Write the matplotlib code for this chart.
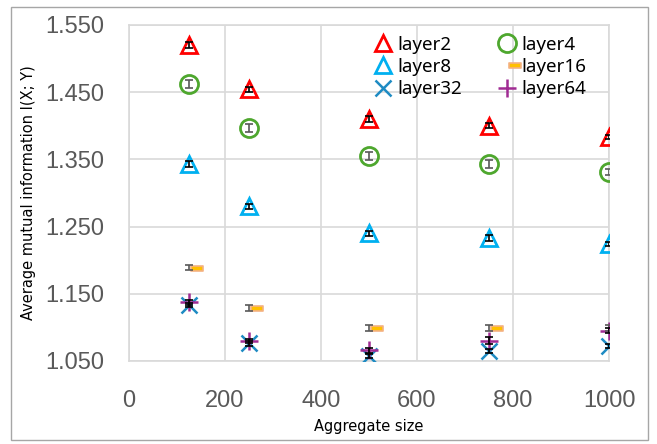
import sys

import matplotlib
matplotlib.use('Agg')
import matplotlib.pyplot as plt
from matplotlib.path import Path
from matplotlib.patches import Rectangle


sizes = [125, 250, 500, 750, 1000]

layer2 = [1.520, 1.454, 1.410, 1.400, 1.383]
layer4 = [1.462, 1.397, 1.355, 1.343, 1.331]
layer8 = [1.343, 1.280, 1.240, 1.233, 1.224]
layer16 = [1.189, 1.129, 1.099, 1.099, 1.099]
layer32 = [1.133, 1.076, 1.057, 1.065, 1.072]
layer64 = [1.137, 1.079, 1.066, 1.080, 1.095]

err2 = [0.004, 0.004, 0.004, 0.004, 0.003]
err4 = [0.006, 0.006, 0.006, 0.006, 0.005]
err8 = [0.004, 0.004, 0.004, 0.004, 0.003]
err16 = [0.004, 0.004, 0.004, 0.004, 0.004]
err32 = [0.003, 0.003, 0.003, 0.003, 0.003]
err64 = [0.003, 0.003, 0.004, 0.005, 0.004]

y_ticks = [1.050, 1.150, 1.250, 1.350, 1.450, 1.550]
x_ticks = [0, 200, 400, 600, 800, 1000]


def main():
    fig = plt.figure(figsize=(6.57, 4.44), dpi=100)
    ax = fig.add_axes([0.196, 0.187, 0.731, 0.757])

    # dash marker for layer16 sits a bit to the right of its error bar
    dash = Path([(0.15, -0.18), (1.0, -0.18), (1.0, 0.18), (0.15, 0.18), (0.15, -0.18)],
                [Path.MOVETO, Path.LINETO, Path.LINETO, Path.LINETO, Path.CLOSEPOLY])

    series = [
        ('layer2', layer2, err2, dict(marker='^', ms=12, mfc='none', mec='#FF0000', mew=2), 'black'),
        ('layer4', layer4, err4, dict(marker='o', ms=13, mfc='none', mec='#4EA72E', mew=2), '#595959'),
        ('layer8', layer8, err8, dict(marker='^', ms=12, mfc='none', mec='#00B0F0', mew=2), 'black'),
        ('layer16', layer16, err16, dict(marker=dash, ms=20, mfc='#FFC000', mec='#F4B183', mew=1.2), '#595959'),
        ('layer32', layer32, err32, dict(marker='x', ms=11, mec='#1E8BC3', mew=1.8), 'black'),
        ('layer64', layer64, err64, dict(marker='+', ms=13, mec='#A02B93', mew=1.8), 'black'),
    ]

    handles = {}
    for name, vals, errs, style, ecol in series:
        h, = ax.plot(sizes, vals, linestyle='none', label=name, zorder=3, **style)
        handles[name] = h
        ax.errorbar(sizes, vals, yerr=errs, fmt='none', ecolor=ecol,
                    elinewidth=1.2, capsize=3, capthick=1.2, zorder=4)

    ax.set_xlim(0, 1000)
    ax.set_ylim(1.05, 1.55)
    ax.set_xticks(x_ticks)
    ax.set_yticks(y_ticks)
    ax.set_yticklabels(['%.3f' % v for v in y_ticks])
    ax.grid(True, color='#D9D9D9', linewidth=1.2, zorder=0)
    ax.set_axisbelow(True)
    for sp in ax.spines.values():
        sp.set_color('#D9D9D9')
        sp.set_linewidth(1.2)
    ax.tick_params(length=0, labelsize=17, labelcolor='#595959')
    ax.tick_params(axis='y', pad=18)
    ax.tick_params(axis='x', pad=21)
    for lab in ax.get_xticklabels() + ax.get_yticklabels():
        lab.set_family('Liberation Sans')

    ax.set_xlabel('Aggregate size', fontsize=10.5, labelpad=5)
    ax.set_ylabel('Average mutual information I(X; Y)', fontsize=10.5, labelpad=6)

    order = ['layer2', 'layer8', 'layer32', 'layer4', 'layer16', 'layer64']
    ax.legend([handles[n] for n in order], order, ncol=2, frameon=False,
              loc='upper left', bbox_to_anchor=(0.49, 0.995), borderpad=0,
              handlelength=1.0, handletextpad=0.3, columnspacing=1.85,
              labelspacing=0.22, prop={'family': 'Noto Sans', 'size': 13.5})

    fig.add_artist(Rectangle((0.016, 0.008), 0.97, 0.976, transform=fig.transFigure,
                             fill=False, edgecolor='#A6A6A6', linewidth=1))

    fig.savefig('out.png', dpi=100)


if __name__ == '__main__':
    sys.exit(main())
